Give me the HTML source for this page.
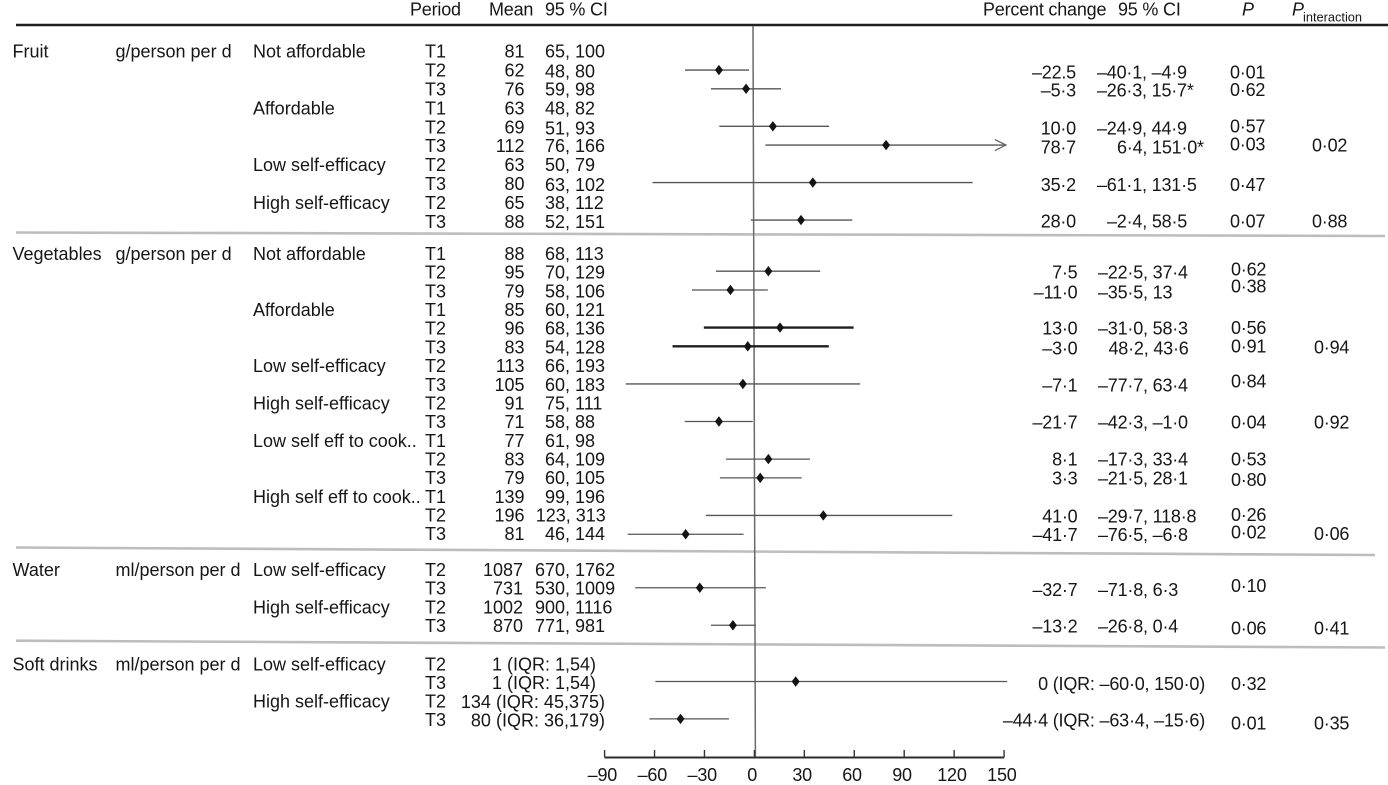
<!DOCTYPE html>
<html lang="en">
<head>
<meta charset="utf-8">
<title>Forest plot of percent change by self-efficacy and affordability</title>
<style>
html,body{margin:0;padding:0;background:#fff;}
body{width:1388px;height:785px;overflow:hidden;}
svg{display:block;}
text{font-family:"Liberation Sans",Arial,sans-serif;font-size:18px;fill:#161616;}
.tight text{letter-spacing:-0.2px;}
.pc{text-anchor:end;}
.sub{font-size:12.8px !important;letter-spacing:0 !important;}
.it{font-style:italic;}
</style>
</head>
<body>
<svg id="chart" xmlns="http://www.w3.org/2000/svg" width="1388" height="785" viewBox="0 0 1388 785">
  <rect x="0" y="0" width="1388" height="785" fill="#fff"/>

  <g class="tight">
    <text x="410" y="15.5">Period</text>
    <text x="489" y="15.5">Mean</text>
    <text x="545" y="15.5">95 % CI</text>
    <text x="983" y="15.5">Percent change</text>
    <text x="1118" y="15.5">95 % CI</text>
    <text class="it" x="1242" y="15.5">P</text>
    <text class="it" x="1292" y="15.5">P</text>
    <text class="sub" x="1303" y="21.5">interaction</text>
  </g>

  <g>
    <line x1="16" y1="25" x2="1388" y2="25" stroke="#1f1f1f" stroke-width="2.6"/>
    <line x1="16" y1="232.5" x2="1385" y2="236" stroke="#bdbdbd" stroke-width="2.6"/>
    <line x1="16" y1="547.5" x2="1375" y2="555" stroke="#bdbdbd" stroke-width="2.6"/>
    <line x1="16" y1="640.7" x2="1385" y2="647.5" stroke="#bdbdbd" stroke-width="2.6"/>
  </g>

  <g id="left-table"></g>

  <line x1="753" y1="26" x2="755.4" y2="757" stroke="#6a6a6a" stroke-width="1.5"/>
  <g id="axis" class="tight"></g>
  <g id="marks"></g>

  <g class="tight">
    <text class="pc" x="1076" y="78.7">–22.5</text>
    <text class="pc" x="1076" y="96.7">–5·3</text>
    <text class="pc" x="1076" y="134.7">10·0</text>
    <text class="pc" x="1076" y="153.3">78·7</text>
    <text class="pc" x="1076" y="191">35·2</text>
    <text class="pc" x="1076" y="227.7">28·0</text>
    <text class="pc" x="1077.5" y="278.7">7·5</text>
    <text class="pc" x="1077.5" y="298.3">–11·0</text>
    <text class="pc" x="1077.5" y="334.7">13·0</text>
    <text class="pc" x="1077.5" y="354.7">–3·0</text>
    <text class="pc" x="1077.5" y="391.7">–7·1</text>
    <text class="pc" x="1077.5" y="428.7">–21·7</text>
    <text class="pc" x="1077.5" y="465.3">8·1</text>
    <text class="pc" x="1077.5" y="484.3">3·3</text>
    <text class="pc" x="1077.5" y="522.3">41·0</text>
    <text class="pc" x="1077.5" y="541">–41·7</text>
    <text class="pc" x="1077.5" y="596">–32·7</text>
    <text class="pc" x="1077.5" y="632.7">–13·2</text>
    <text class="pc" x="1205" y="690">0 (IQR: –60·0, 150·0)</text>
    <text class="pc" x="1205" y="726.7">–44·4 (IQR: –63·4, –15·6)</text>
  </g>

  <g class="tight">
    <text x="1097" y="78.7">–40·1, –4·9</text>
    <text x="1097" y="96.7">–26·3, 15·7*</text>
    <text x="1097" y="134.7">–24·9, 44·9</text>
    <text x="1117" y="153.3">6·4, 151·0*</text>
    <text x="1097" y="191">–61·1, 131·5</text>
    <text x="1107" y="227.7">–2·4, 58·5</text>
    <text x="1098" y="278.7">–22·5, 37·4</text>
    <text x="1098" y="298.3">–35·5, 13</text>
    <text x="1098" y="334.7">–31·0, 58·3</text>
    <text x="1108.5" y="354.7">48·2, 43·6</text>
    <text x="1098" y="391.7">–77·7, 63·4</text>
    <text x="1098" y="428.7">–42·3, –1·0</text>
    <text x="1098" y="465.3">–17·3, 33·4</text>
    <text x="1098" y="484.3">–21·5, 28·1</text>
    <text x="1098" y="522.3">–29·7, 118·8</text>
    <text x="1098" y="541">–76·5, –6·8</text>
    <text x="1098" y="596">–71·8, 6·3</text>
    <text x="1098" y="632.7">–26·8, 0·4</text>
  </g>

  <g class="tight">
    <text x="1230" y="78.7">0·01</text>
    <text x="1230" y="96">0·62</text>
    <text x="1230" y="132.7">0·57</text>
    <text x="1230" y="150.3">0·03</text>
    <text x="1230" y="191">0·47</text>
    <text x="1230" y="227.7">0·07</text>
    <text x="1231" y="275.3">0·62</text>
    <text x="1231" y="292.7">0·38</text>
    <text x="1231" y="334">0·56</text>
    <text x="1231" y="352.3">0·91</text>
    <text x="1231" y="387.7">0·84</text>
    <text x="1231" y="428.7">0·04</text>
    <text x="1231" y="465.3">0·53</text>
    <text x="1231" y="486">0·80</text>
    <text x="1231" y="521">0·26</text>
    <text x="1231" y="538.7">0·02</text>
    <text x="1231" y="592">0·10</text>
    <text x="1231" y="634.3">0·06</text>
    <text x="1231" y="690">0·32</text>
    <text x="1231" y="729.7">0·01</text>
  </g>

  <g class="tight">
    <text x="1312" y="151.7">0·02</text>
    <text x="1312" y="227.7">0·88</text>
    <text x="1314" y="353.3">0·94</text>
    <text x="1314" y="428.7">0·92</text>
    <text x="1314" y="540">0·06</text>
    <text x="1314" y="634.3">0·41</text>
    <text x="1314" y="729.7">0·35</text>
  </g>
</svg>

<script>
// ---- chart data (one entry per table row, null where no estimate is plotted) ----
const estimates = [null,-21.3,-5.0,null,11.1,79.1,null,35.1,null,28.0,
  null,8.4,-14.4,null,15.4,-4.0,null,-6.9,null,-21.3,null,8.4,3.5,null,41.4,-41.3,
  null,-32.8,null,-12.9,
  null,24.8,null,-44.4];
const lowerBounds = [null,-41.7,-26.1,null,-21.1,6.6,null,-61.2,null,-2.1,
  null,-23.1,-37.5,null,-30.4,-49.2,null,-77.3,null,-41.9,null,-17.1,-20.7,null,-29.2,-76.1,
  null,-71.6,null,-26.1,
  null,-59.5,null,-63.1];
const upperBounds = [null,-3.2,16.0,null,44.8,151.1,null,131.1,null,58.8,
  null,39.5,8.1,null,59.6,44.7,null,63.5,null,-1.0,null,33.4,28.4,null,118.9,-6.5,
  null,6.9,null,0.8,
  null,151.9,null,-15.3];
const emphasisRows = [14,15];
const arrowRows = [5];
const tickValues = [-90,-60,-30,0,30,60,90,120,150];
const tickLabels = ['–90','–60','–30','0','30','60','90','120','150'];

// ---- left table text ----
const outcomes = {0:'Fruit',10:'Vegetables',26:'Water',30:'Soft drinks'};
const units = {0:'g/person per d',10:'g/person per d',26:'ml/person per d',30:'ml/person per d'};
const subgroups = {0:'Not affordable',3:'Affordable',6:'Low self-efficacy',8:'High self-efficacy',
  10:'Not affordable',13:'Affordable',16:'Low self-efficacy',18:'High self-efficacy',
  20:'Low self eff to cook..',23:'High self eff to cook..',
  26:'Low self-efficacy',28:'High self-efficacy',30:'Low self-efficacy',32:'High self-efficacy'};
const periods = ['T1','T2','T3','T1','T2','T3','T2','T3','T2','T3',
  'T1','T2','T3','T1','T2','T3','T2','T3','T2','T3','T1','T2','T3','T1','T2','T3',
  'T2','T3','T2','T3','T2','T3','T2','T3'];
const means = ['81','62','76','63','69','112','63','80','65','88',
  '88','95','79','85','96','83','113','105','91','71','77','83','79','139','196','81',
  '1087','731','1002','870','1','1','134','80'];
const meanCIs = ['65, 100','48, 80','59, 98','48, 82','51, 93','76, 166','50, 79','63, 102','38, 112','52, 151',
  '68, 113','70, 129','58, 106','60, 121','68, 136','54, 128','66, 193','60, 183','75, 111','58, 88','61, 98','64, 109','60, 105','99, 196','123, 313','46, 144',
  '670, 1762','530, 1009','900, 1116','771, 981',
  '(IQR: 1,54)','(IQR: 1,54)','(IQR: 45,375)','(IQR: 36,179)'];

// ---- scales and layout functions ----
function xScale(v){ return 754.4 + v * 1.6645; }
function markY(i){
  if(i < 10) return 51.3 + 18.75 * i;
  if(i < 26) return 64.5 + 18.79 * i;
  if(i < 30) return 81.5 + 18.75 * i;
  return 102.2 + 18.7 * i - 0.4;
}
function textBase(i){
  if(i < 10) return 57.7 + 18.9 * i;
  if(i < 26) return 260 + 18.68 * (i - 10);
  if(i < 30) return 576 + 18.67 * (i - 26);
  return 670.3 + 18.6 * (i - 30);
}

const NS = 'http://www.w3.org/2000/svg';
function make(tag, attrs, parent){
  const el = document.createElementNS(NS, tag);
  for(const k in attrs) el.setAttribute(k, attrs[k]);
  parent.appendChild(el);
  return el;
}

// ---- left table ----
const leftTable = document.getElementById('left-table');
function addCell(x, y, str, anchor, name){
  const t = make('text', {x:x, y:y, 'text-anchor':anchor}, leftTable);
  
  
  t.textContent = str;
}
periods.forEach(function(p, i){
  const y = textBase(i);
  if(outcomes[i]) addCell(12.5, y, outcomes[i], 'start', 'outcome-label');
  if(units[i]) addCell(115.5, y, units[i], 'start', 'unit-label');
  if(subgroups[i]) addCell(253, y, subgroups[i], 'start', 'subgroup-label');
  addCell(425, y, p, 'start', 'period-label');
  if(i >= 30){
    addCell(i < 32 ? 596 : 605, y + (i >= 32 ? 0.6 : 0), means[i] + ' ' + meanCIs[i], 'end', 'mean-iqr');
  } else {
    addCell(i >= 26 ? 523 : 524.5, y, means[i], 'end', 'mean-value');
    const ciX = i >= 26 ? 535 : (meanCIs[i] === '123, 313' ? 535.7 : 545);
    addCell(ciX, y + (i < 10 && i % 3 === 1 ? 1 : 0), meanCIs[i], 'start', 'mean-ci');
  }
});

// ---- axis ----
const axis = document.getElementById('axis');
const axisY = 757.5;
const axisLine = make('line', {x1:xScale(tickValues[0]), y1:axisY, x2:xScale(tickValues[tickValues.length-1]), y2:axisY, stroke:'#2c2c2c', 'stroke-width':1.9}, axis);


tickValues.forEach(function(v, i){
  const tick = make('line', {x1:xScale(v), y1:axisY - 7.5, x2:xScale(v), y2:axisY, stroke:'#333', 'stroke-width':1.4}, axis);
  
  
  const label = make('text', {x:xScale(v) - 2.2, y:781, 'text-anchor':'middle'}, axis);
  
  
  label.textContent = tickLabels[i];
});

// ---- forest marks ----
const marks = document.getElementById('marks');
estimates.forEach(function(est, i){
  if(est === null) return;
  const y = markY(i);
  const thick = emphasisRows.indexOf(i) !== -1;
  const x1 = xScale(lowerBounds[i]), x2 = xScale(upperBounds[i]), cx = xScale(est);
  const ci = make('line', {x1:x1, y1:y, x2:x2, y2:y,
    stroke: thick ? '#1f1f1f' : '#555', 'stroke-width': thick ? 2.4 : 1.3}, marks);
  
  
  if(arrowRows.indexOf(i) !== -1){
    const head = make('polyline', {points:(x2-11)+','+(y-5.5)+' '+x2+','+y+' '+(x2-11)+','+(y+5.5),
      fill:'none', stroke:'#666', 'stroke-width':1.3}, marks);
    
    
  }
  const d = make('polygon', {points:cx+','+(y-5.2)+' '+(cx+4)+','+y+' '+cx+','+(y+5.2)+' '+(cx-4)+','+y, fill:'#141414'}, marks);
  
  
});
</script>
</body>
</html>
